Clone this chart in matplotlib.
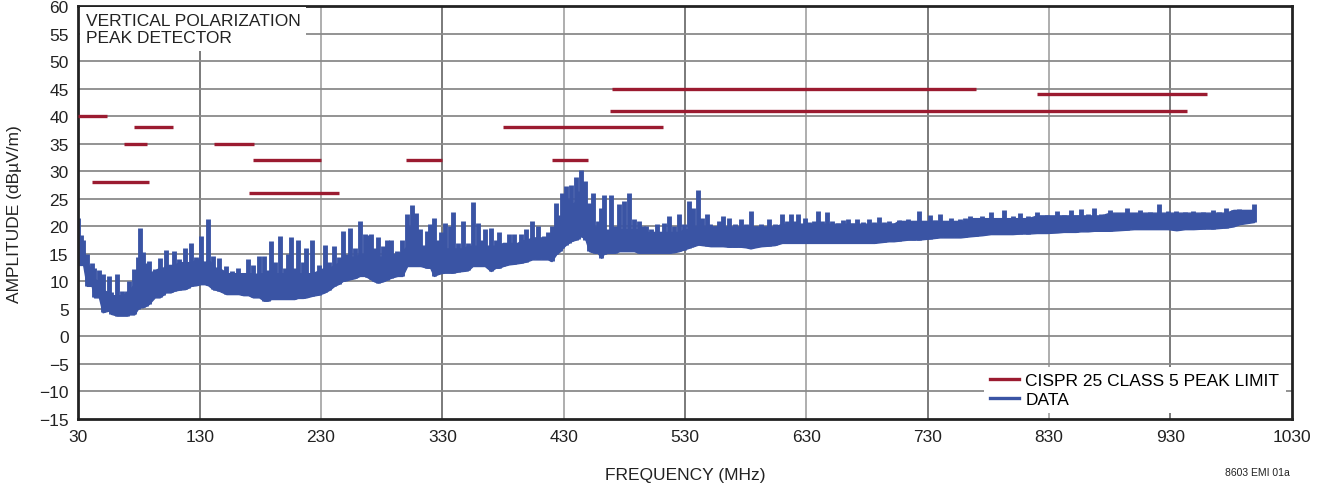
import matplotlib
matplotlib.use("Agg")
import matplotlib.pyplot as plt
from matplotlib.lines import Line2D

plt.rcParams['font.family'] = ['Liberation Sans', 'DejaVu Sans']

# CISPR 25 class 5 peak limits: (start MHz, stop MHz, dBuV/m)
limit_start = [30, 41, 68, 76, 142, 174, 171, 300, 420, 380, 468, 470, 820]
limit_stop = [54, 88, 87, 108, 175, 230, 245, 330, 450, 512, 944, 770, 960]
limit_level = [40, 28, 35, 38, 35, 32, 26, 32, 32, 38, 41, 45, 44]

data_freq = [30, 32, 34, 37, 41, 43, 47, 50, 55, 57, 62, 66, 70, 72, 76, 79, 81, 83, 86, 88,
             93, 97, 100, 102, 106, 109, 113, 118, 120, 123, 127, 131, 134, 137, 141, 143, 146, 149, 152, 157,
             162, 166, 170, 174, 177, 179, 183, 186, 189, 192, 196, 200, 203, 205, 208, 211, 215, 218, 223, 228,
             233, 237, 241, 245, 248, 251, 254, 258, 262, 266, 268, 271, 274, 277, 281, 284, 288, 293, 297, 301,
             303, 305, 308, 310, 312, 317, 320, 323, 326, 329, 332, 336, 339, 343, 347, 351, 355, 359, 362, 365,
             370, 374, 377, 380, 385, 389, 392, 395, 399, 404, 409, 414, 417, 420, 424, 427, 429, 432, 434, 436,
             440, 442, 444, 446, 448, 451, 454, 456, 458, 461, 463, 466, 469, 472, 476, 480, 484, 488, 492, 495,
             498, 502, 507, 510, 513, 517, 521, 525, 529, 533, 535, 537, 541, 544, 548, 551, 555, 558, 561, 566,
             571, 576, 580, 584, 588, 593, 599, 604, 610, 614, 617, 620, 623, 626, 629, 632, 636, 640, 643, 647,
             651, 656, 660, 664, 668, 672, 677, 682, 686, 690, 694, 698, 702, 706, 710, 714, 718, 723, 727, 732,
             736, 740, 745, 749, 754, 757, 761, 765, 770, 775, 782, 788, 793, 800, 806, 813, 820, 828, 837, 842,
             848, 852, 856, 862, 867, 873, 880, 887, 894, 900, 905, 913, 921, 928, 935, 942, 949, 957, 965, 970,
             976, 982, 987, 993, 999]
data_low = [13.0, 13.0, 13.0, 9.2, 9.2, 7.1, 7.1, 4.4, 4.7, 4.1, 3.8, 3.8, 3.8, 4.0, 4.0, 5.0, 5.3, 5.3, 5.6, 5.9,
            7.1, 7.1, 7.6, 8.0, 8.0, 8.3, 8.5, 8.6, 8.8, 9.2, 9.3, 9.5, 9.5, 9.3, 8.6, 8.5, 8.3, 8.0, 7.7, 7.7,
            7.7, 7.5, 7.5, 7.1, 7.1, 7.1, 6.5, 6.5, 6.8, 6.8, 6.8, 6.8, 6.8, 6.8, 6.8, 7.0, 7.0, 7.1, 7.4, 7.6,
            8.0, 8.5, 9.2, 9.6, 10.1, 10.2, 10.4, 10.6, 11.0, 11.0, 10.8, 10.4, 10.0, 9.8, 10.0, 10.3, 10.7, 11.0, 11.0, 12.8,
            12.8, 12.8, 12.8, 12.8, 12.8, 12.5, 12.5, 11.0, 11.3, 11.5, 11.6, 11.6, 11.6, 11.8, 11.9, 12.0, 12.8, 12.8, 12.8, 12.8,
            11.9, 12.5, 12.5, 12.8, 13.1, 13.2, 13.3, 13.4, 13.6, 14.0, 14.0, 14.0, 14.0, 13.7, 15.0, 15.5, 16.1, 16.7, 17.0, 17.3,
            17.6, 17.8, 18.3, 18.0, 17.6, 15.5, 15.3, 15.2, 15.2, 14.3, 15.0, 15.2, 15.2, 15.2, 15.5, 15.5, 15.5, 15.5, 15.2, 15.2,
            15.2, 15.2, 15.2, 15.2, 15.2, 15.2, 15.3, 15.5, 15.8, 16.1, 16.3, 16.4, 16.7, 16.6, 16.5, 16.4, 16.4, 16.4, 16.4, 16.3,
            16.3, 16.3, 16.2, 16.0, 16.2, 16.4, 16.5, 16.6, 17.0, 17.0, 17.0, 17.0, 17.0, 17.0, 17.0, 17.0, 17.0, 17.0, 17.0, 17.0,
            17.0, 17.0, 17.0, 17.0, 17.0, 17.0, 17.0, 17.0, 17.0, 17.1, 17.2, 17.3, 17.3, 17.4, 17.5, 17.6, 17.6, 17.6, 17.7, 17.8,
            17.9, 18.0, 18.0, 18.0, 18.0, 18.0, 18.1, 18.2, 18.3, 18.4, 18.6, 18.6, 18.6, 18.6, 18.7, 18.7, 18.8, 18.8, 18.9, 19.0,
            19.0, 19.0, 19.1, 19.1, 19.2, 19.2, 19.2, 19.3, 19.4, 19.5, 19.5, 19.5, 19.5, 19.5, 19.3, 19.5, 19.5, 19.6, 19.6, 19.7,
            19.8, 20.0, 20.4, 20.6, 20.8]
data_body = [17, 16.5, 16, 13.5, 12, 10.5, 10, 8.5, 8, 7.5, 7.5, 7.5, 8, 8.5, 9.5, 12, 12.5, 12.5, 12, 11.5,
             12, 12.5, 12.5, 13, 13, 13, 13.5, 13.5, 13.5, 13.5, 14, 14, 13.5, 14, 13, 12.5, 12.5, 12, 11.5, 11.5,
             11.5, 11.5, 11.5, 11.5, 11, 11.5, 11.5, 11.5, 11.5, 11.5, 11.5, 11.5, 11.5, 11.5, 11.5, 11.5, 11.5, 11.5, 11.5, 12,
             12.5, 12.5, 13, 13.5, 14, 14.5, 14.5, 14.5, 15, 15, 15, 15, 14.5, 14.5, 14.5, 14.5, 15, 15, 15.5, 16.5,
             16.5, 17, 17, 16.5, 16.5, 16.5, 16.5, 16, 16, 16, 16, 16, 16, 16, 16, 16.5, 16.5, 16.5, 16.5, 16.5,
             16.5, 16.5, 16.5, 17, 17, 17, 17, 17.5, 17.5, 18, 18, 18, 18, 18.5, 20.5, 21.5, 22.5, 23.5, 23.5, 24,
             24.5, 24.5, 25, 24, 23.5, 20.5, 19.5, 19, 19, 19, 19, 19, 19, 19, 19.5, 19.5, 19.5, 19.5, 19.5, 19.5,
             19, 19, 19, 19, 19, 19, 19, 19, 19.5, 19.5, 19.5, 20, 20, 20, 20, 20, 20, 20, 20, 20,
             20, 20, 20, 20, 20, 20, 20, 20, 20.5, 20.5, 20.5, 20.5, 20.5, 20.5, 20.5, 20.5, 20.5, 20.5, 20.5, 20.5,
             20.5, 20.5, 20.5, 20.5, 20.5, 20.5, 20.5, 20.5, 20.5, 20.5, 20.5, 20.5, 20.5, 21, 21, 21, 21, 21, 21, 21,
             21, 21, 21, 21, 21, 21, 21, 21.5, 21.5, 21.5, 21.5, 21.5, 21.5, 21.5, 21.5, 21.5, 22, 22, 22, 22,
             22, 22, 22, 22, 22, 22, 22.5, 22.5, 22.5, 22.5, 22.5, 22.5, 22.5, 22.5, 22.5, 22.5, 22.5, 22.5, 22.5, 22.5,
             22.5, 23, 23, 23, 23]
data_peak = [21.6, 18.5, 17.6, 15.0, 13.4, 12.5, 12.0, 11.3, 11.0, 8.0, 11.4, 8.3, 8.3, 10.1, 12.2, 14.5, 19.8, 15.4, 13.4, 13.7,
             12.2, 14.3, 12.5, 15.8, 13.0, 15.5, 14.0, 16.1, 13.5, 16.9, 14.5, 18.3, 13.5, 21.3, 14.6, 12.5, 14.3, 12.0, 12.8, 11.9,
             12.5, 11.5, 14.0, 13.0, 11.5, 14.6, 14.6, 12.0, 17.3, 13.5, 18.3, 12.5, 15.0, 18.0, 12.5, 17.6, 13.5, 16.1, 17.6, 13.0,
             16.7, 13.5, 16.4, 14.5, 19.2, 15.0, 19.8, 16.0, 21.0, 18.6, 18.5, 18.6, 16.0, 18.0, 16.5, 17.5, 17.6, 15.5, 17.6, 22.2,
             20.0, 23.8, 22.5, 18.0, 19.5, 19.2, 20.5, 21.6, 17.6, 19.0, 20.7, 20.1, 22.7, 17.0, 21.0, 17.0, 24.5, 20.7, 17.5, 19.5,
             19.8, 17.6, 19.0, 17.0, 18.7, 18.7, 17.0, 18.6, 19.5, 21.0, 20.0, 18.3, 19.0, 20.0, 24.3, 22.0, 26.1, 27.3, 25.0, 27.6,
             28.9, 26.5, 30.3, 27.0, 28.2, 24.3, 26.1, 20.0, 21.0, 23.4, 25.7, 19.5, 25.7, 20.0, 24.0, 24.7, 26.1, 21.3, 21.0, 20.0,
             20.0, 19.5, 20.4, 19.0, 20.7, 21.9, 20.0, 22.3, 20.5, 24.6, 21.5, 23.4, 26.7, 21.5, 22.3, 20.5, 20.0, 21.0, 21.9, 21.6,
             20.5, 21.3, 20.5, 22.8, 20.0, 20.5, 21.3, 20.5, 22.3, 21.0, 22.3, 21.0, 22.2, 20.5, 21.6, 20.8, 21.0, 22.8, 21.0, 22.7,
             21.0, 20.7, 21.2, 21.3, 20.6, 21.3, 20.8, 21.3, 20.8, 21.7, 20.8, 21.0, 20.6, 21.1, 20.8, 21.3, 21.0, 22.8, 21.0, 22.0,
             21.2, 22.3, 21.0, 21.6, 21.0, 21.3, 21.5, 21.9, 21.2, 21.9, 22.7, 21.5, 23.0, 21.8, 22.5, 21.8, 22.6, 22.0, 22.8, 22.0,
             22.9, 22.0, 23.1, 22.2, 23.4, 22.3, 22.9, 22.4, 23.4, 22.5, 22.9, 22.6, 24.1, 22.8, 22.8, 22.6, 22.8, 22.7, 23.0, 22.6,
             23.3, 22.9, 23.2, 23.0, 24.1]

x_ticks = list(range(30, 1031, 100))
y_ticks = list(range(-15, 61, 5))

red = '#9b1b30'
blue = '#3a54a4'
ink = '#222222'

fig = plt.figure(figsize=(13.23, 4.89), dpi=100)
ax = fig.add_axes([0.0592, 0.1411, 0.9171, 0.8440])

# grid
for i, xv in enumerate(x_ticks[1:-1]):
    ax.axvline(xv, color='#707070' if i % 2 == 0 else '#a8a8a8', lw=1.3, zorder=1)
for yv in y_ticks[1:-1]:
    ax.axhline(yv, color='#8a8a8a', lw=1.3, zorder=1)

# limits
for s, e, lv in zip(limit_start, limit_stop, limit_level):
    ax.plot([s, e], [lv, lv], color=red, lw=2.4, solid_capstyle='butt', zorder=3)

# data trace
ax.fill_between(data_freq, data_low, data_body, color=blue, lw=1.0, edgecolor=blue, zorder=2)
ax.vlines(data_freq, data_low, data_peak, color=blue, lw=3.5, zorder=2)

ax.set_xlim(30, 1030)
ax.set_ylim(-15, 60)
ax.set_xticks(x_ticks)
ax.set_yticks(y_ticks)
ax.tick_params(length=0, labelsize=12.5, colors=ink, pad=7)
for sp in ax.spines.values():
    sp.set_linewidth(2)
    sp.set_color(ink)

ax.set_xlabel('FREQUENCY (MHz)', fontsize=12.5, color=ink, labelpad=17)
ax.set_ylabel('AMPLITUDE (dBµV/m)', fontsize=12.5, color=ink, labelpad=12)

ax.text(0.006, 0.984, 'VERTICAL POLARIZATION\nPEAK DETECTOR', transform=ax.transAxes,
        ha='left', va='top', fontsize=12.5, color=ink, linespacing=1.15, zorder=5,
        bbox=dict(boxstyle='square,pad=0.35', facecolor='white', edgecolor='none'))

handles = [Line2D([], [], color=red, lw=2.4), Line2D([], [], color=blue, lw=2.4)]
leg = ax.legend(handles, ['CISPR 25 CLASS 5 PEAK LIMIT', 'DATA'], loc='lower right',
                fontsize=12.5, frameon=True, fancybox=False, handlelength=1.7, handletextpad=0.35,
                labelspacing=0.2, borderpad=0.35, borderaxespad=0.35)
leg.get_frame().set_facecolor('white')
leg.get_frame().set_edgecolor('none')
leg.get_frame().set_alpha(1)
leg.set_zorder(6)

fig.text(0.975, 0.022, '8603 EMI 01a', ha='right', va='bottom', fontsize=7.5, color=ink)

fig.savefig('out.png', dpi=100)
